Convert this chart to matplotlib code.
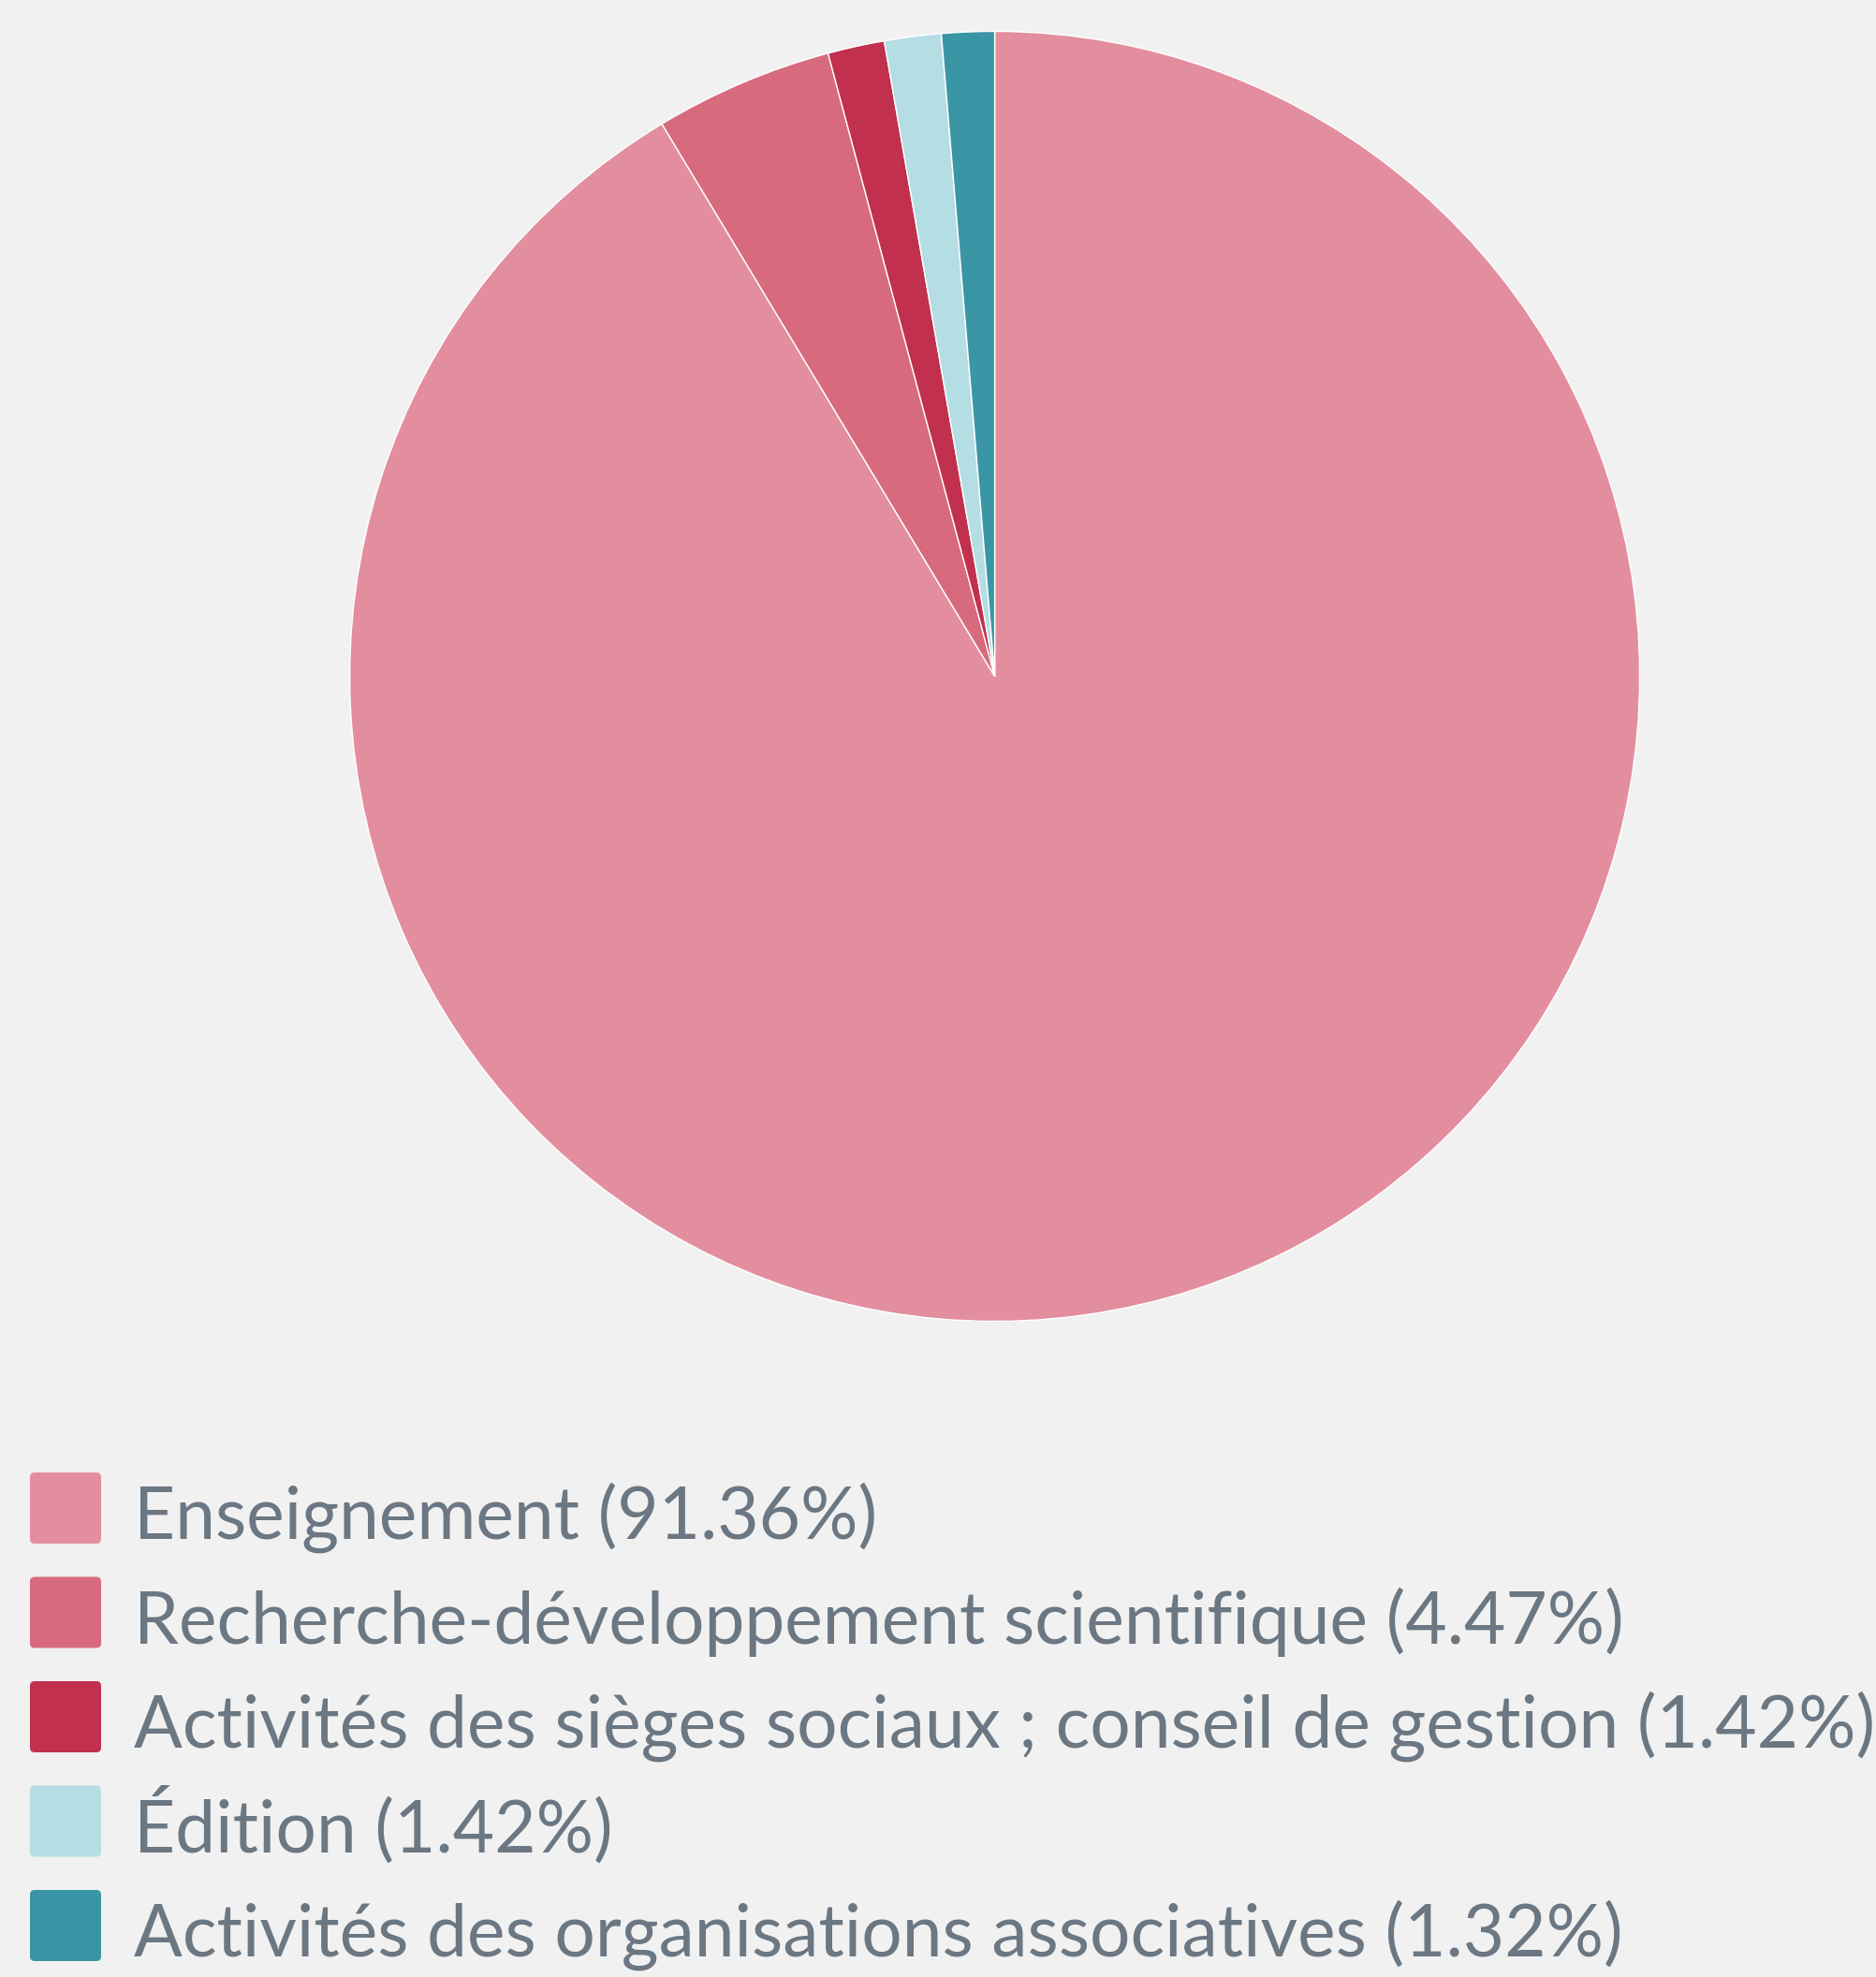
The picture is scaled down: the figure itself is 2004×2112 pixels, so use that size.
import matplotlib
import matplotlib.pyplot as plt
from matplotlib.patches import FancyBboxPatch

matplotlib.rc("font", family=["Lato", "DejaVu Sans"])

# parts, in %
secteurs = [
    "Enseignement",
    "Recherche-développement scientifique",
    "Activités des sièges sociaux\u202f; conseil de gestion",
    "Édition",
    "Activités des organisations associatives",
]
parts = [91.36, 4.47, 1.42, 1.42, 1.32]
couleurs = ["#e38e9e", "#d86a7e", "#c1304c", "#b5dde4", "#3a96a4"]

W, H = 2004, 2112
fond = "#f1f1f1"
gris = "#6b7782"

fig = plt.figure(figsize=(W / 100, H / 100), dpi=100, facecolor=fond)

# camembert
cx, cy, r = 1062.6, 722.5, 689
ax = fig.add_axes([(cx - r) / W, (H - cy - r) / H, 2 * r / W, 2 * r / H])
ax.pie(parts, colors=couleurs, startangle=90, counterclock=False,
       wedgeprops=dict(edgecolor="white", linewidth=1))
ax.set_xlim(-1, 1)
ax.set_ylim(-1, 1)
ax.set_aspect("equal")
ax.axis("off")

# légende, en pixels
lax = fig.add_axes([0, 0, 1, 1], zorder=-1)
lax.set_xlim(0, W)
lax.set_ylim(H, 0)
lax.axis("off")

y0, pas, cote = 1573, 111.5, 76
for i, (nom, val, c) in enumerate(zip(secteurs, parts, couleurs)):
    y = y0 + i * pas
    lax.add_patch(FancyBboxPatch((32, y), cote, cote,
                                 boxstyle="round,pad=0,rounding_size=5",
                                 facecolor=c, edgecolor="none"))
    lax.text(143, y + 71, f"{nom} ({val:.2f}%)", fontsize=55.2, color=gris,
             va="baseline", ha="left")

fig.savefig("out.png", facecolor=fond)
